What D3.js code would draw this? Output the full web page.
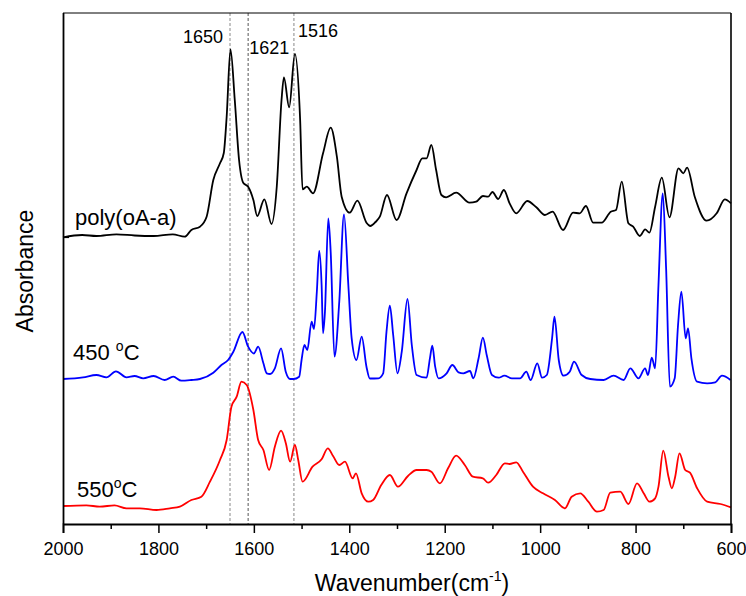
<!DOCTYPE html>
<html>
<head>
<meta charset="utf-8">
<script src="https://cdn.jsdelivr.net/npm/d3@7"></script>
<style>
  html, body { margin: 0; padding: 0; background: #fff; }
  svg { display: block; font-family: Arial, "Liberation Sans", Helvetica, sans-serif; }
</style>
</head>
<body>
<svg id="chart" width="746" height="596"></svg>
<script>
// ---- Data ----
const xTicks = [2000, 1800, 1600, 1400, 1200, 1000, 800, 600];
const xMinorTicks = [1900, 1700, 1500, 1300, 1100, 900, 700];
const yTicks = [2.87];

// poly(oA-a)  [wavenumber, absorbance (offset, a.u.)]
const polyWave = [2000,1960,1930,1888,1850,1810,1770,1745,1731,1713,1699,1685,1671,1663,1657,1649,1640,1631,1622,1612,1601,1593,1578,1563,1552,1542,1537,1526,1514,1503,1498,1489,1476,1455,1439,1426,1416,1399,1383,1364,1356,1345,1336,1321,1301,1280,1259,1247,1238,1228,1218,1207,1197,1176,1148,1134,1120,1109,1100,1088,1076,1064,1050,1027,1008,990,974,952,931,917,904,889,871,852,841,829,815,805,791,780,771,759,745,729,710,700,692,676,651,630,613,600];
const polyAbs  = [2.867,2.89,2.88,2.897,2.885,2.88,2.897,2.873,2.94,2.973,3.073,3.44,3.607,3.71,4.073,4.747,4.24,3.64,3.41,3.373,3.24,3.08,3.247,3.0,3.373,4.24,4.467,4.167,4.7,4.04,3.347,3.373,3.307,3.707,3.963,3.673,3.273,3.113,3.233,3.013,2.98,3.02,3.073,3.29,3.04,3.307,3.54,3.657,3.657,3.79,3.54,3.29,3.267,3.313,3.213,3.223,3.28,3.273,3.32,3.25,3.34,3.207,3.107,3.23,3.167,3.09,3.123,2.94,3.113,3.107,3.18,3.013,3.013,3.123,3.14,3.423,3.007,2.973,2.88,2.947,2.913,3.173,3.463,3.067,3.557,3.507,3.563,3.273,3.033,3.107,3.247,3.207];

// 450 °C
const t450Wave = [2000,1958,1930,1909,1889,1867,1850,1832,1810,1787,1769,1752,1731,1713,1685,1668,1654,1643,1624,1612,1600,1591,1580,1573,1566,1556,1543,1533,1524,1517,1505,1500,1494,1488,1479,1474,1468,1463,1458,1455,1451,1444,1439,1431,1421,1411,1402,1395,1385,1374,1364,1357,1339,1329,1322,1315,1308,1299,1290,1278,1269,1259,1238,1231,1226,1220,1213,1196,1184,1171,1161,1147,1140,1129,1120,1112,1101,1087,1075,1059,1042,1029,1020,1006,996,986,975,970,961,951,938,929,913,895,867,846,825,811,794,780,774,766,759,752,743,736,728,718,711,704,695,690,683,671,650,633,619,601];
const t450Abs  = [1.45,1.467,1.49,1.467,1.527,1.467,1.48,1.457,1.48,1.44,1.473,1.433,1.44,1.45,1.513,1.59,1.64,1.723,1.92,1.773,1.705,1.773,1.607,1.507,1.5,1.557,1.757,1.52,1.45,1.45,1.473,1.64,1.79,1.74,2.023,1.95,2.323,2.73,2.39,1.907,2.123,3.057,2.723,1.673,2.223,3.097,2.39,1.857,1.64,1.873,1.573,1.455,1.457,1.507,1.923,2.183,1.89,1.507,1.723,2.25,1.79,1.49,1.463,1.657,1.783,1.573,1.457,1.507,1.59,1.517,1.507,1.53,1.457,1.657,1.863,1.69,1.49,1.463,1.483,1.457,1.457,1.523,1.44,1.607,1.463,1.49,1.857,2.073,1.64,1.483,1.523,1.623,1.49,1.45,1.44,1.483,1.44,1.557,1.457,1.557,1.49,1.663,1.557,2.39,3.307,2.557,1.373,1.457,1.99,2.323,1.857,1.957,1.657,1.423,1.407,1.417,1.483,1.44];

// 550 °C
const t550Wave = [2000,1951,1923,1892,1867,1839,1804,1776,1755,1731,1710,1692,1671,1657,1647,1636,1626,1615,1601,1591,1580,1568,1556,1543,1533,1524,1514,1507,1498,1477,1458,1445,1434,1421,1409,1393,1386,1374,1360,1350,1333,1315,1298,1277,1259,1238,1228,1210,1193,1176,1158,1141,1120,1109,1092,1074,1064,1050,1036,1015,994,969,948,934,916,899,881,867,853,832,815,797,783,771,759,752,742,731,724,717,708,696,686,671,650,622,600];
const t550Abs  = [0.18,0.187,0.173,0.187,0.157,0.157,0.14,0.157,0.173,0.24,0.273,0.423,0.64,0.84,1.173,1.273,1.423,1.39,1.14,0.84,0.74,0.54,0.773,0.933,0.807,0.623,0.79,0.64,0.423,0.573,0.647,0.757,0.68,0.59,0.623,0.457,0.507,0.307,0.223,0.24,0.39,0.49,0.373,0.48,0.54,0.54,0.523,0.407,0.557,0.683,0.59,0.473,0.457,0.413,0.49,0.607,0.6,0.617,0.523,0.373,0.307,0.24,0.157,0.273,0.307,0.223,0.123,0.14,0.313,0.323,0.2,0.407,0.307,0.223,0.257,0.373,0.733,0.473,0.357,0.473,0.707,0.54,0.513,0.357,0.223,0.2,0.167];

const seriesNames = ["poly(oA-a)", "450 °C", "550°C"];
const seriesColors = ["#000000", "#0000ff", "#ff0000"];

const markLines = [1650, 1612, 1516];
const markLabels = ["1650", "1621", "1516"];

// ---- Layout ----
const svg = d3.select("#chart");
const margin = {left: 63, right: 15, top: 13, bottom: 72};
const W = 746, H = 596;
const iw = W - margin.left - margin.right;
const ih = H - margin.top - margin.bottom;

const x = d3.scaleLinear().domain([2000, 600]).range([margin.left, margin.left + iw]);
const y = d3.scaleLinear().domain([0, 5.11]).range([margin.top + ih, margin.top]);

const g = svg.append("g");

// dashed reference lines
markLines.forEach((w, i) => {
  g.append("line")
    .attr("x1", x(w)).attr("x2", x(w))
    .attr("y1", margin.top).attr("y2", margin.top + ih)
    .attr("stroke", i === 1 ? "#555" : "#888")
    .attr("stroke-width", 1)
    .attr("stroke-dasharray", "3,2");
});

// curves
const line = d3.line()
  .x(d => x(d[0])).y(d => y(d[1]))
  .curve(d3.curveMonotoneX);

const series = [
  d3.zip(polyWave, polyAbs),
  d3.zip(t450Wave, t450Abs),
  d3.zip(t550Wave, t550Abs)
];
series.forEach((s, i) => {
  g.append("path")
    .datum(s)
    .attr("fill", "none")
    .attr("stroke", seriesColors[i])
    .attr("stroke-width", 1.8)
    .attr("stroke-linejoin", "round")
    .attr("d", line);
});

// frame: top & right
g.append("line").attr("x1", margin.left).attr("x2", margin.left + iw)
  .attr("y1", margin.top).attr("y2", margin.top).attr("stroke", "#000").attr("stroke-width", 1);
g.append("line").attr("x1", margin.left + iw).attr("x2", margin.left + iw)
  .attr("y1", margin.top).attr("y2", margin.top + ih).attr("stroke", "#000").attr("stroke-width", 1.6);

// x axis
const xAxis = d3.axisBottom(x).tickValues(xTicks).tickSize(9).tickPadding(9).tickFormat(d3.format("d"));
const xa = svg.append("g").attr("transform", `translate(0,${margin.top + ih})`).call(xAxis);
xa.select(".domain").attr("stroke-width", 1.8);
xa.selectAll(".tick line").attr("stroke-width", 1.5);
xa.selectAll(".tick text").attr("font-size", 18).attr("font-family", "Arial, 'Liberation Sans', sans-serif").attr("fill", "#000");
const xMinor = d3.axisBottom(x).tickValues(xMinorTicks).tickSize(5).tickFormat("");
const xm = svg.append("g").attr("transform", `translate(0,${margin.top + ih})`).call(xMinor);
xm.select(".domain").remove();
xm.selectAll(".tick line").attr("stroke-width", 1.5);

// y axis (no labels, one inward tick)
const yAxis = d3.axisLeft(y).tickValues(yTicks).tickSize(-6).tickFormat("");
const ya = svg.append("g").attr("transform", `translate(${margin.left},0)`).call(yAxis);
ya.select(".domain").attr("stroke-width", 1.8).attr("d", `M0.5,${margin.top}V${margin.top + ih}`);
ya.selectAll(".tick line").attr("stroke-width", 1.2);

// peak labels
const labelPos = [
  {anchor: "end", dx: -7, yv: 4.81},
  {anchor: "start", dx: 1, yv: 4.70},
  {anchor: "start", dx: 4, yv: 4.87}
];
markLines.forEach((w, i) => {
  svg.append("text")
    .attr("x", x(w) + labelPos[i].dx)
    .attr("y", y(labelPos[i].yv))
    .attr("text-anchor", labelPos[i].anchor)
    .attr("font-size", 18)
    .text(markLabels[i]);
});

// series labels
const s1 = svg.append("text").attr("x", 75).attr("y", y(2.99)).attr("font-size", 22).text(seriesNames[0]);
const s2 = svg.append("text").attr("x", 73).attr("y", y(1.64)).attr("font-size", 22);
s2.append("tspan").text("450 ");
s2.append("tspan").attr("font-size", 14).attr("dy", -9).text("o");
s2.append("tspan").attr("dy", 9).text("C");
const s3 = svg.append("text").attr("x", 77).attr("y", y(0.273)).attr("font-size", 22);
s3.append("tspan").text("550");
s3.append("tspan").attr("font-size", 14).attr("dy", -9).text("o");
s3.append("tspan").attr("dy", 9).text("C");

// axis titles
const xt = svg.append("text")
  .attr("x", 412).attr("y", 591)
  .attr("text-anchor", "middle").attr("font-size", 23);
xt.append("tspan").text("Wavenumber(cm");
xt.append("tspan").attr("font-size", 14).attr("dy", -10).text("-1");
xt.append("tspan").attr("dy", 10).text(")");

svg.append("text")
  .attr("transform", `translate(33,${271}) rotate(-90)`)
  .attr("text-anchor", "middle").attr("font-size", 23)
  .text("Absorbance");
</script>
</body>
</html>
